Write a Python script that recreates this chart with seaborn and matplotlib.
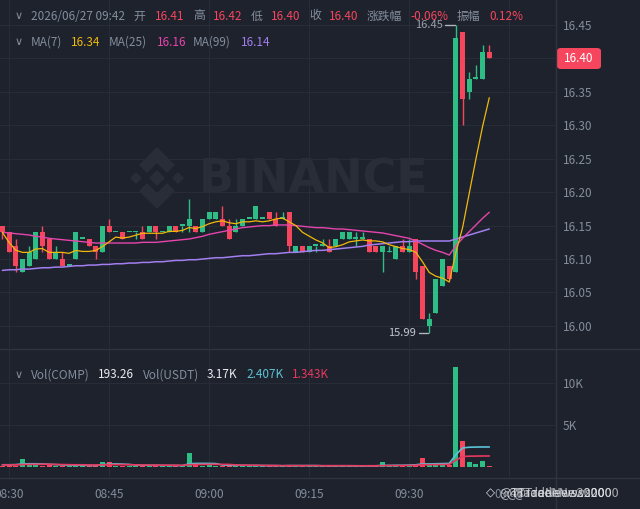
import numpy as np
import pandas as pd
import matplotlib
matplotlib.use('Agg')
import matplotlib.pyplot as plt
import seaborn as sns
from matplotlib.patches import FancyBboxPatch, Polygon

# ===== Dados (velas de 1 minuto a partir de 08:29) =====
inicio = '2026-06-27 08:29'

opens = [16.15, 16.14, 16.12, 16.08, 16.09, 16.10, 16.14, 16.13, 16.10, 16.10,
         16.09, 16.10, 16.13, 16.13, 16.12, 16.11, 16.15, 16.14, 16.14, 16.14,
         16.14, 16.14, 16.14, 16.15, 16.14, 16.14, 16.15, 16.15, 16.15, 16.15,
         16.14, 16.16, 16.16, 16.16, 16.15, 16.14, 16.15, 16.16, 16.16, 16.16,
         16.17, 16.16, 16.16, 16.17, 16.11, 16.12, 16.11, 16.12, 16.12, 16.12,
         16.12, 16.13, 16.13, 16.13, 16.13, 16.13, 16.12, 16.11, 16.11, 16.10,
         16.12, 16.11, 16.13, 16.09, 16.00, 16.02, 16.06, 16.09, 16.08, 16.44,
         16.35, 16.37, 16.37, 16.41]
highs = [16.15, 16.14, 16.13, 16.10, 16.12, 16.14, 16.15, 16.13, 16.12, 16.11,
         16.09, 16.14, 16.13, 16.13, 16.12, 16.15, 16.16, 16.14, 16.14, 16.14,
         16.14, 16.15, 16.15, 16.15, 16.14, 16.15, 16.15, 16.15, 16.19, 16.15,
         16.16, 16.17, 16.17, 16.18, 16.16, 16.16, 16.16, 16.16, 16.18, 16.16,
         16.17, 16.17, 16.17, 16.17, 16.12, 16.12, 16.12, 16.12, 16.13, 16.13,
         16.13, 16.14, 16.14, 16.14, 16.14, 16.13, 16.12, 16.12, 16.12, 16.12,
         16.13, 16.13, 16.13, 16.09, 16.02, 16.07, 16.10, 16.09, 16.45, 16.44,
         16.38, 16.39, 16.42, 16.42]
lows = [16.13, 16.11, 16.08, 16.08, 16.09, 16.10, 16.11, 16.10, 16.10, 16.09,
        16.09, 16.10, 16.13, 16.12, 16.10, 16.11, 16.14, 16.14, 16.13, 16.14,
        16.13, 16.13, 16.14, 16.13, 16.14, 16.14, 16.14, 16.14, 16.14, 16.14,
        16.14, 16.16, 16.16, 16.15, 16.13, 16.14, 16.15, 16.16, 16.16, 16.16,
        16.16, 16.15, 16.16, 16.11, 16.11, 16.11, 16.11, 16.11, 16.12, 16.11,
        16.12, 16.13, 16.13, 16.12, 16.13, 16.11, 16.11, 16.08, 16.11, 16.10,
        16.11, 16.11, 16.07, 16.01, 15.99, 16.02, 16.06, 16.07, 16.08, 16.30,
        16.34, 16.37, 16.37, 16.40]
closes = [16.14, 16.11, 16.09, 16.10, 16.11, 16.14, 16.12, 16.10, 16.11, 16.09,
          16.09, 16.14, 16.13, 16.12, 16.11, 16.15, 16.14, 16.14, 16.13, 16.14,
          16.14, 16.13, 16.15, 16.14, 16.14, 16.15, 16.14, 16.15, 16.16, 16.14,
          16.16, 16.17, 16.17, 16.15, 16.13, 16.15, 16.16, 16.16, 16.18, 16.16,
          16.16, 16.15, 16.16, 16.12, 16.12, 16.11, 16.12, 16.12, 16.12, 16.11,
          16.13, 16.14, 16.14, 16.13, 16.13, 16.11, 16.11, 16.12, 16.11, 16.12,
          16.11, 16.12, 16.08, 16.01, 16.01, 16.07, 16.10, 16.07, 16.43, 16.34,
          16.37, 16.37, 16.41, 16.40]

# médias móveis (MA25 e MA99)
ma25 = [16.140, 16.139, 16.138, 16.137, 16.136, 16.134, 16.133, 16.131, 16.130, 16.129,
        16.128, 16.127, 16.126, 16.125, 16.124, 16.124, 16.124, 16.124, 16.124, 16.124,
        16.124, 16.125, 16.125, 16.125, 16.126, 16.127, 16.128, 16.129, 16.130, 16.132,
        16.134, 16.137, 16.139, 16.141, 16.143, 16.145, 16.147, 16.148, 16.149, 16.150,
        16.150, 16.151, 16.151, 16.151, 16.150, 16.149, 16.148, 16.147, 16.147, 16.146,
        16.145, 16.145, 16.144, 16.143, 16.142, 16.141, 16.140, 16.139, 16.137, 16.135,
        16.133, 16.131, 16.127, 16.122, 16.117, 16.113, 16.110, 16.106, 16.120, 16.131,
        16.141, 16.151, 16.161, 16.170]
ma99 = [16.083, 16.084, 16.084, 16.085, 16.085, 16.086, 16.087, 16.087, 16.088, 16.088,
        16.089, 16.090, 16.090, 16.091, 16.091, 16.092, 16.092, 16.093, 16.093, 16.094,
        16.094, 16.095, 16.095, 16.096, 16.096, 16.097, 16.098, 16.098, 16.099, 16.099,
        16.100, 16.101, 16.102, 16.102, 16.103, 16.104, 16.105, 16.105, 16.106, 16.107,
        16.108, 16.108, 16.109, 16.110, 16.110, 16.111, 16.112, 16.113, 16.113, 16.114,
        16.115, 16.116, 16.117, 16.118, 16.119, 16.121, 16.122, 16.123, 16.124, 16.125,
        16.126, 16.126, 16.127, 16.127, 16.127, 16.127, 16.127, 16.127, 16.130, 16.133,
        16.136, 16.139, 16.142, 16.145]

# volume (milhares de COMP) e médias do volume
volume = [0.20, 0.25, 0.20, 0.95, 0.25, 0.30, 0.20, 0.25, 0.20, 0.15,
          0.10, 0.25, 0.10, 0.20, 0.20, 0.63, 0.63, 0.15, 0.20, 0.10,
          0.15, 0.20, 0.25, 0.20, 0.10, 0.20, 0.20, 0.10, 1.67, 0.25,
          0.20, 0.25, 0.20, 0.15, 0.20, 0.20, 0.25, 0.10, 0.20, 0.10,
          0.15, 0.20, 0.10, 0.30, 0.20, 0.15, 0.20, 0.10, 0.10, 0.15,
          0.20, 0.15, 0.15, 0.10, 0.10, 0.20, 0.15, 0.60, 0.10, 0.20,
          0.15, 0.20, 0.25, 1.10, 0.30, 0.25, 0.30, 0.30, 11.90, 3.10,
          0.60, 0.44, 0.71, 0.19]
vol_ma5 = [0.30, 0.30, 0.32, 0.40, 0.42, 0.42, 0.40, 0.36, 0.32, 0.28,
           0.26, 0.24, 0.24, 0.22, 0.22, 0.30, 0.38, 0.40, 0.38, 0.34,
           0.26, 0.24, 0.24, 0.24, 0.22, 0.22, 0.22, 0.20, 0.42, 0.46,
           0.46, 0.46, 0.44, 0.28, 0.24, 0.24, 0.24, 0.22, 0.22, 0.20,
           0.20, 0.20, 0.18, 0.20, 0.20, 0.20, 0.20, 0.20, 0.18, 0.18,
           0.18, 0.18, 0.18, 0.18, 0.16, 0.18, 0.18, 0.22, 0.22, 0.24,
           0.24, 0.26, 0.30, 0.40, 0.40, 0.42, 0.44, 0.46, 1.50, 2.30,
           2.38, 2.40, 2.41, 2.41]
vol_ma10 = [0.28, 0.28, 0.29, 0.33, 0.34, 0.35, 0.36, 0.36, 0.34, 0.33,
            0.31, 0.30, 0.30, 0.28, 0.27, 0.29, 0.31, 0.32, 0.32, 0.31,
            0.29, 0.28, 0.27, 0.26, 0.25, 0.25, 0.24, 0.23, 0.31, 0.33,
            0.34, 0.35, 0.35, 0.35, 0.34, 0.28, 0.26, 0.25, 0.24, 0.23,
            0.22, 0.21, 0.20, 0.20, 0.20, 0.20, 0.20, 0.20, 0.19, 0.19,
            0.19, 0.19, 0.19, 0.18, 0.18, 0.18, 0.18, 0.20, 0.20, 0.21,
            0.21, 0.22, 0.24, 0.30, 0.31, 0.32, 0.33, 0.35, 0.85, 1.28,
            1.32, 1.33, 1.34, 1.343]

tick_labels = ['08:30', '08:45', '09:00', '09:15', '09:30', '09:45']
price_ticks = [16.00, 16.05, 16.10, 16.15, 16.20, 16.25, 16.30, 16.35, 16.40, 16.45]
vol_ticks = [5, 10]
vol_tick_labels = ['5K', '10K']

# ===== Cores =====
bg = '#1e222d'
grid_c = '#282c37'
sep_c = '#2f343f'
txt_c = '#848e9c'
up_c = '#2ebd85'
down_c = '#f6465d'
ma7_c = '#f0b90b'
ma25_c = '#e645ad'
ma99_c = '#a27ff0'
vma5_c = '#5cc3d6'
vma10_c = '#e8385f'
wm_c = '#292d38'

df = pd.DataFrame({'open': opens, 'high': highs, 'low': lows, 'close': closes,
                   'vol': volume, 'ma25': ma25, 'ma99': ma99,
                   'vma5': vol_ma5, 'vma10': vol_ma10})
df['t'] = pd.date_range(inicio, periods=len(df), freq='min')
df['i'] = np.arange(len(df))
df['ma7'] = df['close'].rolling(7, min_periods=1).mean()
df['subiu'] = df['close'] >= df['open']
df['cor'] = np.where(df['subiu'], up_c, down_c)

t0 = pd.Timestamp(inicio)
tick_pos = [(pd.Timestamp('2026-06-27 ' + s) - t0) / pd.Timedelta(minutes=1) for s in tick_labels]

sns.set_theme(style='dark', rc={'axes.facecolor': bg, 'figure.facecolor': bg})
plt.rcParams['font.family'] = ['Noto Sans CJK SC', 'DejaVu Sans']

W, H = 640, 509
fig = plt.figure(figsize=(W / 100, H / 100), dpi=100)


def px_axes(l, t, r, b):
    return fig.add_axes([l / W, 1 - b / H, (r - l) / W, (b - t) / H])


def ftext(x, y, s, color, size=8.5, ha='left', **kw):
    fig.text(x / W, 1 - y / H, s, color=color, fontsize=size, ha=ha, va='center', **kw)


ax = px_axes(0, 0, 555, 348)
axv = px_axes(0, 349, 555, 477)
xlim = (-0.35, 82.85)

# ===== Marca d'água BINANCE =====
cx, cy = 157, 178
logo = [
    [(0, -30), (17, -13), (10, -6), (0, -16), (-10, -6), (-17, -13)],
    [(0, 30), (17, 13), (10, 6), (0, 16), (-10, 6), (-17, 13)],
    [(0, -7), (7, 0), (0, 7), (-7, 0)],
    [(-21, -5), (-16, 0), (-21, 5), (-26, 0)],
    [(21, -5), (26, 0), (21, 5), (16, 0)],
]
for pts in logo:
    fig.add_artist(Polygon([((cx + px) / W, 1 - (cy + py) / H) for px, py in pts],
                           closed=True, transform=fig.transFigure, color=wm_c, zorder=0.5))
fig.text(199 / W, 1 - 180 / H, 'BINANCE', color=wm_c, fontsize=33, fontweight='bold',
         family='DejaVu Sans', ha='left', va='center', zorder=0.5)

# ===== Painel de preço =====
body_lo = np.minimum(df['open'], df['close'])
body_h = np.maximum((df['close'] - df['open']).abs(), 0.0025)
ax.vlines(df['i'], df['low'], df['high'], colors=df['cor'], lw=1, zorder=3)
ax.bar(df['i'], body_h, bottom=body_lo, width=0.75, color=df['cor'], lw=0, zorder=3)

sns.lineplot(data=df, x='i', y='ma99', ax=ax, color=ma99_c, lw=1.1, estimator=None, zorder=4)
sns.lineplot(data=df, x='i', y='ma25', ax=ax, color=ma25_c, lw=1.0, estimator=None, zorder=4)
sns.lineplot(data=df, x='i', y='ma7', ax=ax, color=ma7_c, lw=0.9, estimator=None, zorder=4)

ax.set_xlim(xlim)
ax.set_ylim(15.967, 16.4874)
ax.set_xticks(tick_pos)
ax.set_yticks(price_ticks)
ax.set_yticklabels([f'{p:.2f}' for p in price_ticks])
ax.yaxis.tick_right()
ax.tick_params(axis='x', labelbottom=False, length=0)
ax.tick_params(axis='y', length=0, pad=5.8, labelcolor=txt_c, labelsize=8.5)
ax.grid(True, color=grid_c, lw=0.8)
ax.set_xlabel('')
ax.set_ylabel('')
for s in ax.spines.values():
    s.set_visible(False)

# máxima e mínima
i_hi = int(df['high'].idxmax())
i_lo = int(df['low'].idxmin())
hi, lo = df['high'].max(), df['low'].min()
ax.plot([i_hi - 1.6, i_hi - 0.15], [hi, hi], color='#b0b5bd', lw=1, zorder=5)
ax.text(i_hi - 2.0, hi, f'{hi:.2f}', color='#9aa0a9', fontsize=8, ha='right', va='center')
ax.plot([i_lo - 1.6, i_lo - 0.15], [lo, lo], color='#b0b5bd', lw=1, zorder=5)
ax.text(i_lo - 2.0, lo, f'{lo:.2f}', color='#c4c8cf', fontsize=8, ha='right', va='center')

# ===== Painel de volume =====
axv.bar(df['i'], df['vol'], width=0.75, color=df['cor'], lw=0, zorder=3)
sns.lineplot(data=df, x='i', y='vma5', ax=axv, color=vma5_c, lw=1.2, estimator=None, zorder=4)
sns.lineplot(data=df, x='i', y='vma10', ax=axv, color=vma10_c, lw=1.2, estimator=None, zorder=4)
axv.set_xlim(xlim)
axv.set_ylim(-1.15, 14.03)
axv.set_yticks(vol_ticks)
axv.set_yticklabels(vol_tick_labels)
axv.yaxis.tick_right()
axv.set_xticks(tick_pos)
axv.set_xticklabels(tick_labels)
axv.tick_params(axis='x', length=0, pad=8, labelcolor=txt_c, labelsize=8.5)
axv.tick_params(axis='y', length=0, pad=5.8, labelcolor=txt_c, labelsize=8.5)
axv.grid(True, color=grid_c, lw=0.8)
axv.set_xlabel('')
axv.set_ylabel('')
for s in axv.spines.values():
    s.set_visible(False)

# separadores
fig.add_artist(plt.Line2D([555.5 / W] * 2, [0, 1], color=sep_c, lw=1))
fig.add_artist(plt.Line2D([0, 1], [1 - 348.5 / H] * 2, color=sep_c, lw=1))
fig.add_artist(plt.Line2D([0, 1], [1 - 477.5 / H] * 2, color=sep_c, lw=1))

# etiqueta do preço atual
ult = df['close'].iloc[-1]
fig.add_artist(FancyBboxPatch((557 / W, 1 - 69 / H), 44 / W, 21 / H,
                              boxstyle='round,pad=0,rounding_size=0.006',
                              transform=fig.transFigure, color=down_c, lw=0))
ftext(579, 58.5, f'{ult:.2f}', 'white', ha='center')

# ===== Cabeçalhos =====
chev = '\u2228'
ftext(15, 16, chev, txt_c, size=8, family='DejaVu Sans')
cab = [(31, '2026/06/27 09:42', txt_c), (133, '开', txt_c), (155, '16.41', down_c),
       (193, '高', txt_c), (213, '16.42', down_c), (251, '低', txt_c), (271, '16.40', down_c),
       (309, '收', txt_c), (329, '16.40', down_c), (367, '涨跌幅', txt_c),
       (410, '-0.06%', down_c), (457, '振幅', txt_c), (489, '0.12%', down_c)]
for x, s, c in cab:
    ftext(x, 16, s, c)

ftext(15, 42, chev, txt_c, size=8, family='DejaVu Sans')
ma_txt = [(31, 'MA(7)', txt_c), (71, f"{df['ma7'].iloc[-1]:.2f}", ma7_c),
          (109, 'MA(25)', txt_c), (157, '16.16', ma25_c),
          (193, 'MA(99)', txt_c), (241, f'{ma99[-1]:.2f}', ma99_c)]
for x, s, c in ma_txt:
    ftext(x, 42, s, c)

ftext(15, 375, chev, txt_c, size=8, family='DejaVu Sans')
vol_txt = [(31, 'Vol(COMP)', txt_c), (98, '193.26', '#eaecef'), (143, 'Vol(USDT)', txt_c),
           (207, '3.17K', '#eaecef'), (246, '2.407K', vma5_c), (292, '1.343K', vma10_c)]
for x, s, c in vol_txt:
    ftext(x, 375, s, c)

# marca d'água do autor
ftext(486, 493, '\u25c7', '#e6e8eb', size=8.5, family='DejaVu Sans')
for dx in (0, 7, 14):
    ftext(499 + dx, 493, '@TradeNews2000', '#e6e8eb', size=9, alpha=0.7)

fig.savefig('out.png', dpi=100, facecolor=bg)
